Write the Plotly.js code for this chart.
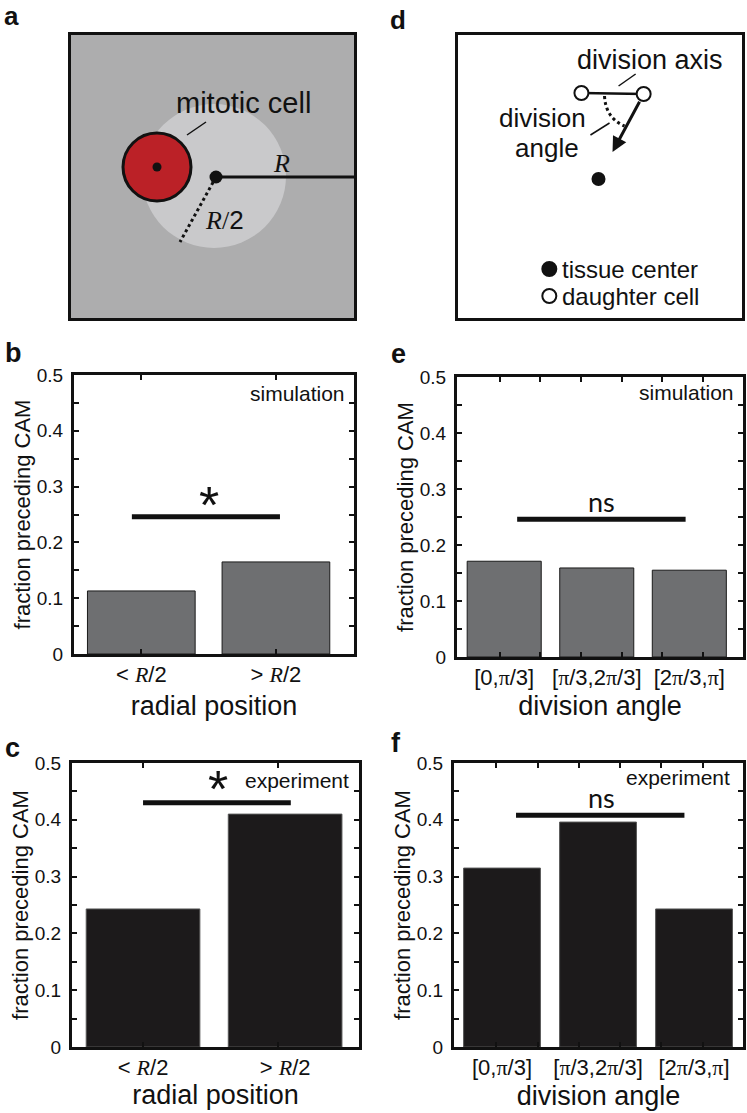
<!DOCTYPE html>
<html><head><meta charset="utf-8">
<script src="https://cdn.plot.ly/plotly-3.0.1.min.js"></script>
<style>html,body{margin:0;padding:0;background:#fff}#chart{width:747px;height:1113px}</style>
</head><body><div id="chart"></div>
<script>
// ---------------- data ----------------
const radialCategories = [1, 2];
const angleCategories = [1, 2, 3];
const radialTickLabels = ['&lt; <span style="font-family:Liberation Serif"><i>R</i></span>/2',
                          '&gt; <span style="font-family:Liberation Serif"><i>R</i></span>/2'];
const angleTickLabels = ['[0,π/3]', '[π/3,2π/3]', '[2π/3,π]'];
const simRadial = [0.113, 0.165];
const expRadial = [0.243, 0.410];
const simAngle = [0.171, 0.159, 0.155];
const expAngle = [0.315, 0.396, 0.243];
const yTickVals = [0, 0.05, 0.1, 0.15, 0.2, 0.25, 0.3, 0.35, 0.4, 0.45, 0.5];
const yTickText = ['0', '', '0.1', '', '0.2', '', '0.3', '', '0.4', '', '0.5'];
// significance bars: span on the category axis and height
const sigSimRadialX = [0.93, 2.03], sigSimRadialY = 0.246, sigSimRadialLabel = '*';
const sigExpRadialX = [1.0, 2.04], sigExpRadialY = 0.430, sigExpRadialLabel = '*';
const sigSimAngleX = [1.14, 2.96], sigSimAngleY = 0.246, sigSimAngleLabel = 'ns';
const sigExpAngleX = [1.146, 2.90], sigExpAngleY = 0.408, sigExpAngleLabel = 'ns';
// minor x tick marks (axis units)
const radialSimTicks = [1, 2];
const radialExpTicks = [1, 1.95];
const angleSimTicks = [0.95, 1.39, 1.83, 2.27, 2.71, 3.15];
const angleExpTicks = [0.94, 1.37, 1.80, 2.23, 2.66, 3.09];

// schematic a (local units, box 283 x 283, y up)
const tissueDiskA = {cx: 143, cy: 142, r: 72};
const mitoticCellA = {cx: 86, cy: 151, r: 34};
const centerA = [145, 141];
const radiusLineA = [[145, 141], [283, 141]];
const halfRadiusLineA = [[145, 141], [109, 76]];
const mitoticLeaderA = [[116, 183], [135, 196]];
// schematic d
const daughterCellsD = {x: [123, 185], y: [225, 224]};
const tissueCenterD = {x: [140], y: [139]};
const arrowTipD = [154, 166];
const angleLeaderD = [[132, 183], [151, 195]];
const axisLeaderD = [[160, 232], [177, 244]];
const legendMarkD = {x: [91, 91], y: [49, 22]};

// ---------------- layout helpers ----------------
const W = 747, H = 1113;
const dx = (l, r) => [l / W, r / W];
const dy = (t, b) => [1 - b / H, 1 - t / H];
const FONT = 'Liberation Sans, Arial, sans-serif';
const piLabel = s => s.replace(/π/g, '<span style="font-family:Liberation Serif">π</span>');

const traces = [];
function barPanel(n, xs, ys, color, lineColor) {
  traces.push({type: 'bar', x: xs, y: ys, xaxis: 'x' + (n === 1 ? '' : n), yaxis: 'y' + (n === 1 ? '' : n),
    width: 0.8, marker: {color: color, line: {color: lineColor, width: 1}}, hoverinfo: 'skip'});
}
function sigLine(n, xs, yv) {
  traces.push({type: 'scatter', mode: 'lines', x: xs, y: [yv, yv], xaxis: 'x' + (n === 1 ? '' : n), yaxis: 'y' + (n === 1 ? '' : n),
    line: {color: '#111', width: 5}, hoverinfo: 'skip'});
}
barPanel(1, radialCategories, simRadial, '#6e6f71', '#1a1a1a');
barPanel(2, radialCategories, expRadial, '#1c1a1b', '#555');
barPanel(3, angleCategories, simAngle, '#6e6f71', '#1a1a1a');
barPanel(4, angleCategories, expAngle, '#1c1a1b', '#555');
sigLine(1, sigSimRadialX, sigSimRadialY);
sigLine(2, sigExpRadialX, sigExpRadialY);
sigLine(3, sigSimAngleX, sigSimAngleY);
sigLine(4, sigExpAngleX, sigExpAngleY);
// empty traces to register the tick-mark overlay axes
[5, 6, 7, 8].forEach((k, i) => traces.push({type: 'scatter', x: [], y: [], xaxis: 'x' + k, yaxis: 'y' + (i === 0 ? '' : i + 1), showlegend: false}));

// schematic a
traces.push({type: 'scatter', mode: 'lines', x: [radiusLineA[0][0], radiusLineA[1][0]], y: [radiusLineA[0][1], radiusLineA[1][1]],
  xaxis: 'x9', yaxis: 'y9', line: {color: '#111', width: 3}, hoverinfo: 'skip'});
traces.push({type: 'scatter', mode: 'lines', x: [halfRadiusLineA[0][0], halfRadiusLineA[1][0]], y: [halfRadiusLineA[0][1], halfRadiusLineA[1][1]],
  xaxis: 'x9', yaxis: 'y9', line: {color: '#111', width: 3, dash: 'dot'}, hoverinfo: 'skip'});
traces.push({type: 'scatter', mode: 'lines', x: [mitoticLeaderA[0][0], mitoticLeaderA[1][0]], y: [mitoticLeaderA[0][1], mitoticLeaderA[1][1]],
  xaxis: 'x9', yaxis: 'y9', line: {color: '#111', width: 1.5}, hoverinfo: 'skip'});
traces.push({type: 'scatter', mode: 'markers', x: [centerA[0], mitoticCellA.cx], y: [centerA[1], mitoticCellA.cy],
  xaxis: 'x9', yaxis: 'y9', marker: {color: '#111', opacity: 1, size: [13, 9], line: {color: '#111', width: 0}}, hoverinfo: 'skip'});
// schematic d
traces.push({type: 'scatter', mode: 'lines', x: daughterCellsD.x, y: daughterCellsD.y, xaxis: 'x10', yaxis: 'y10',
  line: {color: '#111', width: 2.5}, hoverinfo: 'skip'});
traces.push({type: 'scatter', mode: 'lines', x: [axisLeaderD[0][0], axisLeaderD[1][0]], y: [axisLeaderD[0][1], axisLeaderD[1][1]],
  xaxis: 'x10', yaxis: 'y10', line: {color: '#111', width: 1.5}, hoverinfo: 'skip'});
traces.push({type: 'scatter', mode: 'lines', x: [angleLeaderD[0][0], angleLeaderD[1][0]], y: [angleLeaderD[0][1], angleLeaderD[1][1]],
  xaxis: 'x10', yaxis: 'y10', line: {color: '#111', width: 1.5}, hoverinfo: 'skip'});
traces.push({type: 'scatter', mode: 'markers', x: daughterCellsD.x, y: daughterCellsD.y, xaxis: 'x10', yaxis: 'y10',
  marker: {color: '#fff', size: 14, line: {color: '#111', width: 2}}, hoverinfo: 'skip'});
traces.push({type: 'scatter', mode: 'markers', x: tissueCenterD.x, y: tissueCenterD.y, xaxis: 'x10', yaxis: 'y10',
  marker: {color: '#111', size: 14}, hoverinfo: 'skip'});
traces.push({type: 'scatter', mode: 'markers', x: legendMarkD.x, y: legendMarkD.y, xaxis: 'x10', yaxis: 'y10',
  marker: {color: ['#111', '#fff'], size: 14, line: {color: '#111', width: 2}}, hoverinfo: 'skip'});

// ---------------- axes ----------------
const frame = {showline: true, linewidth: 3, linecolor: '#111', showgrid: false, zeroline: false, fixedrange: true};
function yAx(t, b) {
  return Object.assign({}, frame, {domain: dy(t, b), range: [0, 0.5], tickmode: 'array', tickvals: yTickVals, ticktext: yTickText,
    ticks: 'inside', ticklen: 5, tickwidth: 2, tickcolor: '#111', mirror: 'ticks',
    tickfont: {family: FONT, size: 19, color: '#111'}, ticklabelstandoff: 4,
    title: {text: 'fraction preceding CAM', font: {family: FONT, size: 22, color: '#111'}, standoff: 1}});
}
function xAx(l, r, range, labels, anchor, title, standoff) {
  return Object.assign({}, frame, {domain: dx(l, r), range: range, anchor: anchor, mirror: true, ticks: '',
    tickmode: 'array', tickvals: labels.length === 2 ? radialCategories : angleCategories, ticktext: labels,
    tickfont: {family: FONT, size: 22, color: '#111'}, ticklabelstandoff: -1,
    title: {text: title, font: {family: FONT, size: 27, color: '#111'}, standoff: standoff}});
}
function tickAx(over, anchor, range, vals, l, r) {
  return {overlaying: over, anchor: anchor, domain: dx(l, r), range: range, showline: false, showgrid: false, zeroline: false,
    tickmode: 'array', tickvals: vals, showticklabels: false, ticks: 'inside', ticklen: 5, tickwidth: 2, tickcolor: '#111', mirror: 'ticks', fixedrange: true};
}
const rangeB = [0.5, 2.58], rangeC = [0.5, 2.52], rangeE = [0.49, 3.58], rangeF = [0.5, 3.51];
const schem = (l, r, t, b) => ({x: Object.assign({}, frame, {domain: dx(l, r), range: [0, 283], mirror: true, showticklabels: false, ticks: ''}),
                                y: Object.assign({}, frame, {domain: dy(t, b), range: [0, 283], mirror: true, showticklabels: false, ticks: ''})});
const sa = schem(71, 354, 35, 318), sd = schem(458, 742, 35, 318);
sa.x.anchor = 'y9'; sa.y.anchor = 'x9'; sd.x.anchor = 'y10'; sd.y.anchor = 'x10';

const layout = {
  width: W, height: H, margin: {l: 0, r: 0, t: 0, b: 0}, showlegend: false,
  paper_bgcolor: '#fff', plot_bgcolor: '#fff', bargap: 0.2,
  font: {family: FONT, color: '#111'},
  xaxis: xAx(74, 354, rangeB, radialTickLabels, 'y', 'radial position', 10),
  yaxis: Object.assign(yAx(375, 654), {anchor: 'x'}),
  xaxis2: xAx(72, 359, rangeC, radialTickLabels, 'y2', 'radial position', 4),
  yaxis2: Object.assign(yAx(763, 1047), {anchor: 'x2'}),
  xaxis3: xAx(457, 743, rangeE, angleTickLabels.map(piLabel), 'y3', 'division angle', 7),
  yaxis3: Object.assign(yAx(377, 657), {anchor: 'x3'}),
  xaxis4: xAx(454, 743, rangeF, angleTickLabels.map(piLabel), 'y4', 'division angle', 7),
  yaxis4: Object.assign(yAx(763, 1047), {anchor: 'x4'}),
  xaxis5: tickAx('x', 'y', rangeB, radialSimTicks, 74, 354),
  xaxis6: tickAx('x2', 'y2', rangeC, radialExpTicks, 72, 359),
  xaxis7: tickAx('x3', 'y3', rangeE, angleSimTicks, 457, 743),
  xaxis8: tickAx('x4', 'y4', rangeF, angleExpTicks, 454, 743),
  xaxis9: sa.x, yaxis9: sa.y, xaxis10: sd.x, yaxis10: sd.y,
  shapes: [
    {type: 'rect', xref: 'x9', yref: 'y9', x0: 0, x1: 283, y0: 0, y1: 283, fillcolor: '#adadae', line: {width: 0}, layer: 'below'},
    {type: 'circle', xref: 'x9', yref: 'y9', x0: tissueDiskA.cx - tissueDiskA.r, x1: tissueDiskA.cx + tissueDiskA.r,
      y0: tissueDiskA.cy - tissueDiskA.r, y1: tissueDiskA.cy + tissueDiskA.r, fillcolor: '#c9c9cb', line: {width: 0}, layer: 'below'},
    {type: 'circle', xref: 'x9', yref: 'y9', x0: mitoticCellA.cx - mitoticCellA.r, x1: mitoticCellA.cx + mitoticCellA.r,
      y0: mitoticCellA.cy - mitoticCellA.r, y1: mitoticCellA.cy + mitoticCellA.r, fillcolor: '#bb2127', line: {color: '#111', width: 3}, layer: 'below'},
    {type: 'path', xref: 'x10', yref: 'y10', path: 'M 146 222 Q 147 200 166 192', line: {color: '#111', width: 3, dash: 'dot'}}
  ],
  annotations: []
};
const A = layout.annotations;
const ann = (o) => A.push(Object.assign({showarrow: false, font: {family: FONT, size: 21, color: '#111'}}, o));
// panel letters
[['a', 3, 0, 'top'], ['d', 389, 4, 'top']].forEach(([t, x, y, anc]) =>
  ann({text: '<b>' + t + '</b>', xref: 'paper', yref: 'paper', x: x / W, y: 1 - y / H, xanchor: 'left', yanchor: anc, borderpad: 0, font: {family: FONT, size: 26, color: '#111'}}));
[['b', 3, 352.6], ['c', 3, 747.6], ['e', 389, 353.6], ['f', 389, 742.6]].forEach(([t, x, y]) =>
  ann({text: '<b>' + t + '</b>', xref: 'paper', yref: 'paper', x: x / W, y: 1 - y / H, xanchor: 'left', yanchor: 'middle', font: {family: FONT, size: 27, color: '#111'}}));
// significance labels
ann({text: sigSimRadialLabel, xref: 'x', yref: 'y', x: 1.5, y: 0.211, yanchor: 'bottom', font: {family: FONT, size: 52, color: '#111'}});
ann({text: sigExpRadialLabel, xref: 'x2', yref: 'y2', x: 1.525, y: 0.399, yanchor: 'bottom', font: {family: FONT, size: 52, color: '#111'}});
ann({text: sigSimAngleLabel, xref: 'x3', yref: 'y3', x: 2.05, y: 0.277, yanchor: 'middle', font: {family: 'Lato, sans-serif', size: 27, color: '#111'}});
ann({text: sigExpAngleLabel, xref: 'x4', yref: 'y4', x: 2.04, y: 0.44, yanchor: 'middle', font: {family: 'Lato, sans-serif', size: 27, color: '#111'}});
// condition labels
ann({text: 'simulation', xref: 'x domain', yref: 'y domain', x: 0.975, y: 0.935, xanchor: 'right', yanchor: 'middle'});
ann({text: 'experiment', xref: 'x2 domain', yref: 'y2 domain', x: 0.972, y: 0.94, xanchor: 'right', yanchor: 'middle'});
ann({text: 'simulation', xref: 'x3 domain', yref: 'y3 domain', x: 0.976, y: 0.943, xanchor: 'right', yanchor: 'middle'});
ann({text: 'experiment', xref: 'x4 domain', yref: 'y4 domain', x: 0.962, y: 0.95, xanchor: 'right', yanchor: 'middle'});
// schematic a text
ann({text: 'mitotic cell', xref: 'x9', yref: 'y9', x: 172, y: 215, font: {family: FONT, size: 29, color: '#111'}});
ann({text: '<i>R</i>', xref: 'x9', yref: 'y9', x: 210, y: 155, font: {family: 'Liberation Serif, serif', size: 26, color: '#111'}});
ann({text: '<span style="font-family:Liberation Serif"><i>R</i>/</span>2', xref: 'x9', yref: 'y9', x: 153, y: 98, font: {family: FONT, size: 26, color: '#111'}});
// schematic d text
ann({text: 'division axis', xref: 'x10', yref: 'y10', x: 191, y: 258, font: {family: FONT, size: 27, color: '#111'}});
ann({text: 'division', xref: 'x10', yref: 'y10', x: 84, y: 200, font: {family: FONT, size: 26, color: '#111'}});
ann({text: 'angle', xref: 'x10', yref: 'y10', x: 89, y: 170, font: {family: FONT, size: 26, color: '#111'}});
ann({text: 'tissue center', xref: 'x10', yref: 'y10', x: 102, y: legendMarkD.y[0], xanchor: 'left', font: {family: FONT, size: 24, color: '#111'}});
ann({text: 'daughter cell', xref: 'x10', yref: 'y10', x: 102, y: legendMarkD.y[1], xanchor: 'left', font: {family: FONT, size: 24, color: '#111'}});
// division arrow
ann({text: '', xref: 'x10', yref: 'y10', axref: 'x10', ayref: 'y10', x: arrowTipD[0], y: arrowTipD[1],
  ax: daughterCellsD.x[1], ay: daughterCellsD.y[1], showarrow: true, arrowhead: 2, arrowsize: 1, arrowwidth: 3, arrowcolor: '#111', startstandoff: 7});

Plotly.newPlot('chart', traces, layout, {displayModeBar: false, staticPlot: true});
</script></body></html>
